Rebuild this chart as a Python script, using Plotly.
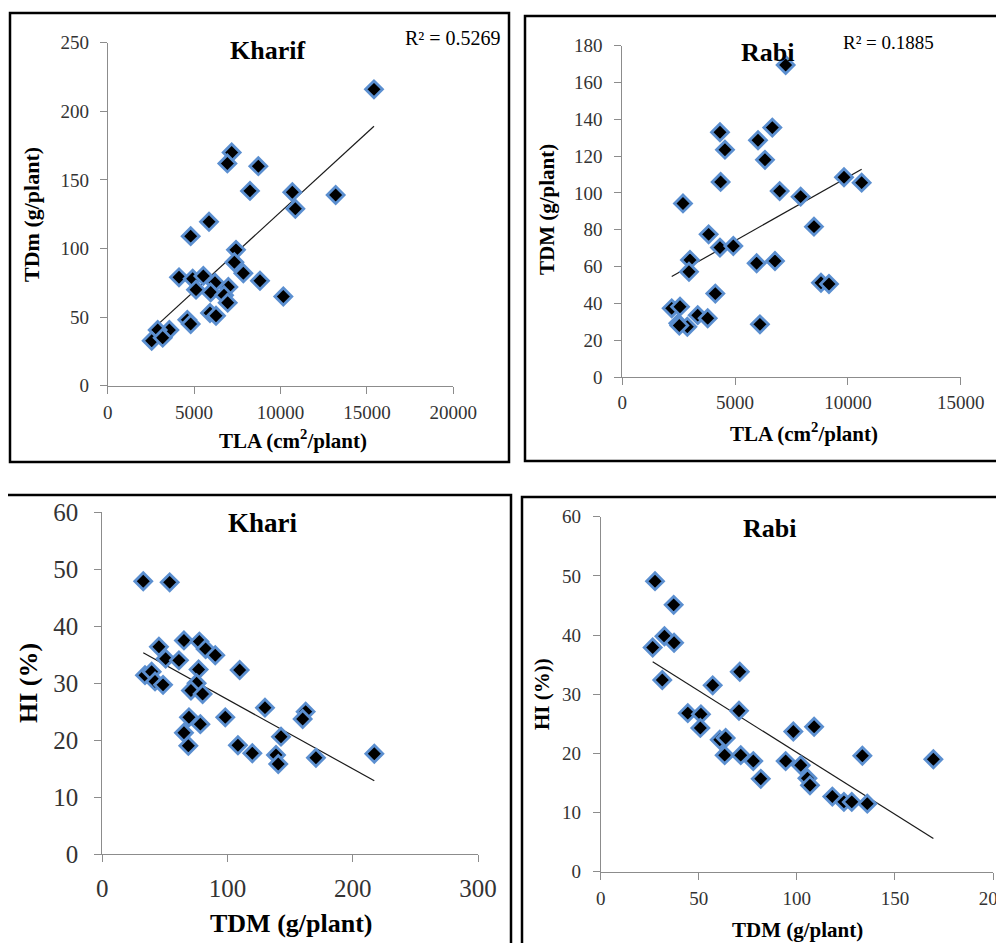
import numpy as np
import plotly.graph_objects as go

# ---------------- data ----------------
# Panel A: Kharif, TLA vs TDm
kh_tla = [15410, 7175, 6924, 8717, 8235, 10685, 13192, 10858, 5863, 4802,
          7425, 7329, 7850, 4127, 4918, 5535, 6210, 8814, 5111, 6982,
          5959, 6731, 6943, 10164, 5921, 6268, 4609, 4802, 3568, 2893,
          2546, 3182]
kh_tdm = [216, 170, 162, 160, 142, 141, 139, 129, 119.5, 109,
          99, 90, 82, 79, 78, 80, 75, 76.5, 70, 72,
          68, 66, 60.5, 65, 53, 51, 48, 45, 40.6, 40.6,
          32.8, 35]

# Panel B: Rabi, TLA vs TDM
rb_tla = [7241, 6650, 4330, 6015, 4551, 6325, 4359, 9827, 10610, 6975,
          7906, 2690, 8497, 3827, 4330, 4921, 3000, 2956, 5955, 6768,
          8807, 9162, 4123, 2190, 2558, 2483, 2882, 3342, 3785, 6101,
          2527]
rb_tdm = [169.5, 135.5, 133, 128.6, 123.5, 118, 106, 108.5, 105.6, 101,
          98, 94.3, 81.7, 77.5, 70.3, 71.2, 63.6, 57.2, 61.8, 63,
          51.2, 50.5, 45.3, 37.3, 38.2, 29.2, 27.3, 33.6, 31.9, 28.6,
          28]

# Panel C: Kharif, TDM vs HI
kh2_tdm = [32.7, 53.8, 65.2, 77.5, 45.2, 82.5, 90.2, 50.6, 61.2, 76.9,
           109.7, 34.1, 39.4, 42.1, 48.5, 75.3, 70.8, 80.1, 129.9, 162.4,
           160.0, 98.2, 69.2, 78.3, 65.2, 68.7, 142.7, 108.3, 119.8, 138.7,
           140.5, 170.6, 217.2]
kh2_hi = [47.9, 47.7, 37.5, 37.3, 36.4, 36.0, 34.9, 34.3, 34.0, 32.4,
          32.3, 31.4, 32.0, 30.3, 29.7, 30.0, 28.7, 28.1, 25.7, 25.0,
          23.7, 24.0, 24.0, 22.8, 21.3, 19.0, 20.6, 19.1, 17.7, 17.4,
          15.8, 16.9, 17.6]

# Panel D: Rabi, TDM vs HI
rb2_tdm = [27.7, 37.2, 32.5, 37.4, 26.5, 31.4, 70.9, 57.1, 70.5, 44.4,
           51.1, 50.8, 60.7, 63.7, 63.2, 71.4, 77.8, 81.6, 94.3, 98.2,
           108.8, 102.0, 105.4, 106.7, 133.4, 169.6, 118.1, 124.0, 128.0, 135.9]
rb2_hi = [49.1, 45.1, 39.8, 38.7, 37.9, 32.4, 33.8, 31.5, 27.2, 26.8,
          26.6, 24.3, 22.3, 22.6, 19.7, 19.7, 18.7, 15.7, 18.7, 23.7,
          24.5, 18.0, 15.8, 14.6, 19.6, 19.0, 12.7, 11.8, 11.8, 11.5]

panel_titles = ["Kharif", "Rabi", "Khari", "Rabi"]
r2_texts = ["R\u00b2 = 0.5269", "R\u00b2 = 0.1885"]

# ---------------- figure ----------------
W, H = 1004, 943
OFF = 8  # page body margin in the browser
SERIF = "Liberation Serif"
MARK = dict(symbol="diamond", size=13, color="black",
            line=dict(color="#5B8FD0", width=2.8))


def px(x):
    return (x - OFF) / W


def py(y):
    return 1 - (y - OFF) / H


fig = go.Figure()

panels = [
    (kh_tla, kh_tdm, "x", "y"),
    (rb_tla, rb_tdm, "x2", "y2"),
    (kh2_tdm, kh2_hi, "x3", "y3"),
    (rb2_tdm, rb2_hi, "x4", "y4"),
]

for xs, ys, xa, ya in panels:
    xs_a = np.array(xs, dtype=float)
    ys_a = np.array(ys, dtype=float)
    m, b = np.polyfit(xs_a, ys_a, 1)
    xl = np.array([xs_a.min(), xs_a.max()])
    fig.add_trace(go.Scatter(x=xl, y=m * xl + b, mode="lines",
                             line=dict(color="#1a1a1a", width=1.2),
                             xaxis=xa, yaxis=ya, showlegend=False,
                             hoverinfo="skip"))
    fig.add_trace(go.Scatter(x=xs, y=ys, mode="markers", marker=MARK,
                             xaxis=xa, yaxis=ya, showlegend=False,
                             cliponaxis=False))


def axis(domain, rng, dtick, fsize, standoff, anchor):
    return dict(domain=domain, range=rng, dtick=dtick, tick0=0,
                anchor=anchor, automargin=False,
                tickformat="d",
                showline=True, linecolor="#8c8c8c", linewidth=1,
                ticks="outside", ticklen=7, tickcolor="#8c8c8c", tickwidth=1,
                showgrid=False, zeroline=False, fixedrange=True,
                ticklabelstandoff=standoff,
                tickfont=dict(family=SERIF, size=fsize, color="#333333"))


# plot areas in pixel coordinates: (x0, x1, ytop, ybottom)
p1 = (107.7, 453.3, 42.7, 385.7)
p2 = (622.3, 960.7, 45.7, 377.0)
p3 = (102.3, 478.0, 512.3, 854.0)
p4 = (600.7, 993.0, 516.7, 871.7)


def dom(p):
    return [px(p[0]), px(p[1])], [py(p[3]), py(p[2])]


d1x, d1y = dom(p1)
d2x, d2y = dom(p2)
d3x, d3y = dom(p3)
d4x, d4y = dom(p4)

fig.update_layout(
    width=W, height=H, autosize=False,
    margin=dict(l=0, r=0, t=0, b=0, pad=0, autoexpand=False),
    paper_bgcolor="white", plot_bgcolor="white",
    xaxis=axis(d1x, [0, 20000], 5000, 19, 2, "y"),
    yaxis=axis(d1y, [0, 250], 50, 19, 7, "x"),
    xaxis2=axis(d2x, [0, 15000], 5000, 19, 1, "y2"),
    yaxis2=axis(d2y, [0, 180], 20, 19, 8, "x2"),
    xaxis3=axis(d3x, [0, 300], 100, 25, 5, "y3"),
    yaxis3=axis(d3y, [0, 60], 10, 25, 11, "x3"),
    xaxis4=axis(d4x, [0, 200], 50, 19, 2, "y4"),
    yaxis4=axis(d4y, [0, 60], 10, 19, 8, "x4"),
)

# frames around panels
frames = [(10, 13, 509, 462), (525, 16, 1008, 461),
          (6, 495, 511, 948), (522, 497, 1008, 948)]
for x0, y0, x1, y1 in frames:
    fig.add_shape(type="rect", xref="paper", yref="paper",
                  x0=px(x0), x1=px(x1), y0=py(y1), y1=py(y0),
                  line=dict(color="black", width=2.5), layer="above")

annots = []


def txt(x, y, s, size, angle=0, bold=True, xanchor="center"):
    annots.append(dict(x=px(x), y=py(y), xref="paper", yref="paper",
                       text=("<b>%s</b>" % s) if bold else s,
                       showarrow=False, textangle=angle,
                       xanchor=xanchor, yanchor="middle",
                       font=dict(family=SERIF, size=size, color="black")))


# panel titles
txt(267, 50, panel_titles[0], 26)
txt(767, 53, panel_titles[1], 26)
txt(263, 523, panel_titles[2], 27)
txt(769, 528, panel_titles[3], 26)

# R^2 labels
txt(453, 38, r2_texts[0], 20, bold=False)
txt(888, 43, r2_texts[1], 19, bold=False)

# axis titles
txt(293, 439, "TLA (cm<sup>2</sup>/plant)", 21)
txt(32, 215, "TDm (g/plant)", 22, angle=-90)
txt(804, 433, "TLA (cm<sup>2</sup>/plant)", 21)
txt(547, 210, "TDM (g/plant)", 21, angle=-90)
txt(291, 923, "TDM (g/plant)", 26)
txt(28, 683, "HI (%)", 26, angle=-90)
txt(797, 930, "TDM (g/plant)", 21)
txt(542, 694, "HI (%))", 21, angle=-90)

fig.update_layout(annotations=annots)

fig.write_html("out.html")
